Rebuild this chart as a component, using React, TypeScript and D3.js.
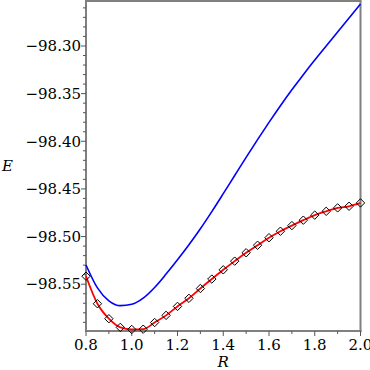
import React from "react";
import * as d3 from "d3";

// R grid shared by both series
const rValues = [
  0.8, 0.85, 0.9, 0.95, 1.0, 1.05, 1.1, 1.15, 1.2, 1.25, 1.3, 1.35, 1.4,
  1.45, 1.5, 1.55, 1.6, 1.65, 1.7, 1.75, 1.8, 1.85, 1.9, 1.95, 2.0,
];

// blue curve
const blueE = [
  -98.5298, -98.5539, -98.5674, -98.5725, -98.571, -98.5646, -98.5534,
  -98.5394, -98.5244, -98.5086, -98.4918, -98.4738, -98.455, -98.4359,
  -98.4169, -98.3983, -98.3802, -98.3627, -98.346, -98.3301, -98.3148,
  -98.3, -98.2853, -98.2707, -98.256,
];

// red curve with diamond markers
const redE = [
  -98.5416, -98.5705, -98.5862, -98.5953, -98.5975, -98.5972, -98.5902,
  -98.5827, -98.5733, -98.5648, -98.5545, -98.5446, -98.5349, -98.5258,
  -98.517, -98.5091, -98.5012, -98.4944, -98.4885, -98.4828, -98.4775,
  -98.4735, -98.4699, -98.4682, -98.4647,
];

const xTicks = [0.8, 1.0, 1.2, 1.4, 1.6, 1.8, 2.0];
const xMinorTicks = [0.9, 1.1, 1.3, 1.5, 1.7, 1.9];
const yTicks = [-98.3, -98.35, -98.4, -98.45, -98.5, -98.55];

const W = 370;
const H = 370;
const left = 86;
const right = 360.5;
const top = 1;
const bottom = 331;
const font = "DejaVu Serif";
const axisColor = "#808080";

const App = () => {
  const x = d3.scaleLinear().domain([0.8, 2.0]).range([left, right]);
  const y = d3.scaleLinear().domain([-98.5991, -98.2528]).range([bottom, top]);

  // minor y ticks every 0.01
  const yMinor = d3.range(-98.59, -98.25, 0.01).filter(
    (v) => !yTicks.some((t) => Math.abs(t - v) < 1e-6)
  );

  const blueLine = d3
    .line<number>()
    .x((_, i) => x(rValues[i]))
    .y((d) => y(d))
    .curve(d3.curveMonotoneX);

  const redLine = d3
    .line<number>()
    .x((_, i) => x(rValues[i]))
    .y((d) => y(d))
    .curve(d3.curveMonotoneX);

  const fmt = (v: number) => "\u2212" + Math.abs(v).toFixed(2);

  return (
    <svg
      width={W}
      height={H}
      style={{ position: "absolute", left: 0, top: 0, background: "#fff" }}
    >
      {/* frame */}
      <g stroke={axisColor} strokeWidth={2} fill="none">
        <line x1={left} x2={left} y1={top} y2={bottom + 1} />
        <line x1={left - 1} x2={right + 1} y1={bottom} y2={bottom} />
        <line x1={left - 1} x2={right + 1} y1={top} y2={top} />
        <line x1={right} x2={right} y1={top} y2={bottom + 1} />
      </g>

      {/* ticks */}
      <g stroke="#555" strokeWidth={1}>
        {yTicks.map((t) => (
          <line key={t} x1={left - 5} x2={left} y1={y(t)} y2={y(t)} />
        ))}
        {yMinor.map((t) => (
          <line key={t} x1={left - 3} x2={left} y1={y(t)} y2={y(t)} />
        ))}
        {xTicks.map((t) => (
          <line key={t} x1={x(t)} x2={x(t)} y1={bottom} y2={bottom + 5} />
        ))}
        {xMinorTicks.map((t) => (
          <line key={t} x1={x(t)} x2={x(t)} y1={bottom} y2={bottom + 3} />
        ))}
      </g>

      {/* tick labels */}
      <g fontFamily={font} fontSize={15} fill="#000">
        {yTicks.map((t) => (
          <text key={t} x={left - 5} y={y(t)} dy="0.35em" textAnchor="end">
            {fmt(t)}
          </text>
        ))}
        {xTicks.map((t) => (
          <text key={t} x={x(t)} y={bottom + 19} textAnchor="middle">
            {t.toFixed(1)}
          </text>
        ))}
        <text x={x(1.4)} y={367} textAnchor="middle" fontStyle="italic">
          R
        </text>
        <text x={2} y={171} fontStyle="italic">
          E
        </text>
      </g>

      {/* series */}
      <path d={blueLine(blueE) ?? ""} fill="none" stroke="#0000ff" strokeWidth={1.6} />
      <path d={redLine(redE) ?? ""} fill="none" stroke="#ff0000" strokeWidth={1.8} />
      <g fill="none" stroke="#000" strokeWidth={1}>
        {redE.map((e, i) => {
          const cx = x(rValues[i]);
          const cy = y(e);
          const r = 4.2;
          return (
            <path
              key={i}
              d={`M${cx - r},${cy}L${cx},${cy - r}L${cx + r},${cy}L${cx},${cy + r}Z`}
            />
          );
        })}
      </g>
    </svg>
  );
};

export default App;
